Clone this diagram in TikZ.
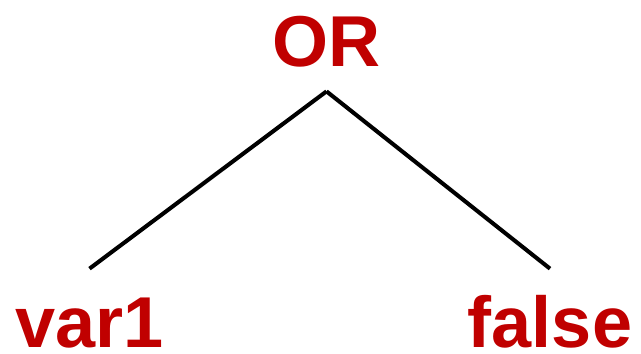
\documentclass[tikz,border=0pt]{standalone}
\usepackage{fontspec}
\setmainfont{Liberation Sans}
\usetikzlibrary{positioning}
\definecolor{opred}{HTML}{C00000}
\definecolor{edgeblack}{HTML}{000000}

\begin{document}
\begin{tikzpicture}[
  lbl/.style={font=\fontsize{41}{49}\selectfont\bfseries,text=opred,
    inner sep=0pt},
  root/.style={lbl,text height=1.0cm,text depth=0.5cm},
  leaf/.style={lbl,text height=1.56cm,text depth=0pt},
  edge/.style={line width=2.3pt,edgeblack}]
\useasboundingbox (0,0) rectangle (12.82,7.06);

\node[root,anchor=base] (orop) at (6.53,5.74) {OR};
\node[leaf,anchor=base] (var) at (1.79,0.12) {var1};
\node[leaf,anchor=base] (fls) at (11.00,0.12) {false};

\draw[edge] (orop.south) -- (var.north);
\draw[edge] (orop.south) -- (fls.north);
\end{tikzpicture}
\end{document}
